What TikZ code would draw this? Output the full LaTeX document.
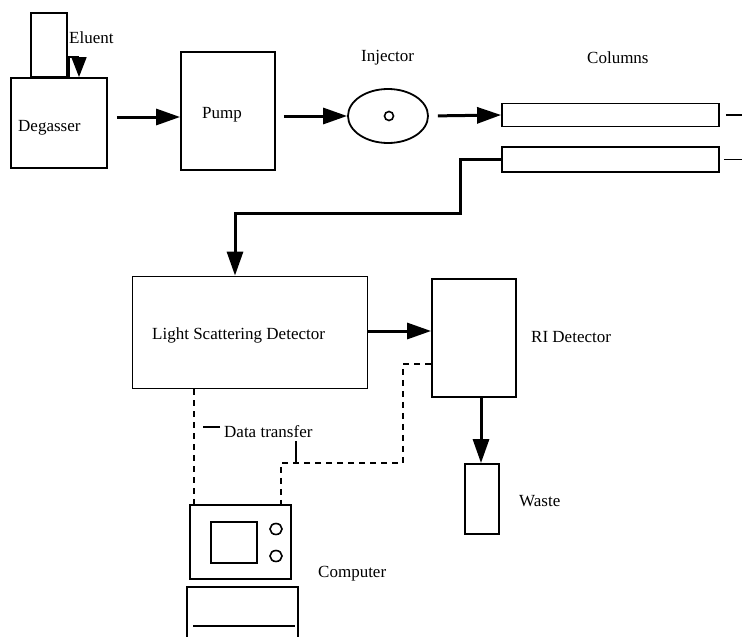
\documentclass[tikz,border=0pt]{standalone}
\usepackage{fontspec}
\setmainfont{Liberation Serif}
\usetikzlibrary{arrows.meta,calc,shapes.geometric}
\begin{document}
\begin{tikzpicture}[x=1pt,y=-1pt,
  box/.style={draw, line width=1.8pt, rectangle, inner sep=0pt},
  lbl/.style={anchor=base west, inner sep=0pt, font=\fontsize{17}{19}\selectfont},
  flow/.style={line width=3pt, -{Triangle[length=24pt,width=16pt]}},
  pipe/.style={line width=1.8pt},
  signal/.style={line width=1.6pt, dash pattern=on 6pt off 5pt},
  tick/.style={line width=1.6pt}]
\useasboundingbox (0,0) rectangle (742,637);

% eluent reservoir and degasser
\node[box, minimum width=36pt, minimum height=64pt] (elu) at (49,45) {};
\node[box, minimum width=96pt, minimum height=90pt] (deg) at (59,123) {};
\node[lbl] (eluT) at (69,43) {Eluent};
\node[lbl] (degT) at (18,131) {Degasser};
\coordinate (eluA) at (69,78);
\coordinate (eluB) at (79,57);
\draw[pipe] (eluA) |- (eluB);
\draw[line width=1.8pt, -{Triangle[length=20pt,width=15pt]}] (eluB) -- (deg.north -| eluB);

% pump and injector
\node[box, minimum width=94pt, minimum height=118pt] (pump) at (228,111) {};
\node[lbl] (pumpT) at (202,118) {Pump};
\node[draw, line width=1.8pt, ellipse, minimum width=80pt, minimum height=54pt, inner sep=0pt] (inj) at (388,116) {};
\node[draw, line width=1.6pt, circle, minimum size=9pt, inner sep=0pt] (port) at (389,116) {};
\node[lbl] (injT) at (361,61) {Injector};

% columns
\node[box, minimum width=217pt, minimum height=23pt] (col1) at (610.5,115) {};
\node[box, minimum width=217pt, minimum height=25pt] (col2) at (610.5,159.5) {};
\node[lbl] (colT) at (587,63) {Columns};

% detectors and waste
\node[box, minimum width=235pt, minimum height=112pt] (lsd) at (250,332.5) {};
\node[lbl] (lsdT) at (152,339) {Light Scattering Detector};
\node[box, minimum width=84pt, minimum height=118pt] (ri) at (474,338) {};
\node[lbl] (riT) at (531,342) {RI Detector};
\node[box, minimum width=34pt, minimum height=70pt] (waste) at (482,499) {};
\node[lbl] (wasteT) at (519,506) {Waste};

% computer
\node[box, minimum width=101pt, minimum height=74pt] (comp) at (240.5,542) {};
\node[box, minimum width=46pt, minimum height=41pt] (screen) at (234,542.5) {};
\node[draw, line width=1.6pt, ellipse, minimum width=12pt, minimum height=11pt, inner sep=0pt] (knob1) at (276,529) {};
\node[draw, line width=1.6pt, ellipse, minimum width=12pt, minimum height=11pt, inner sep=0pt] (knob2) at (276,556) {};
\coordinate (baseL) at (187,645);
\coordinate (baseR) at (298,645);
\draw[pipe] (baseL) |- (298,587) -- (baseR);
\draw[pipe] (193,626) -- (295,626);
\node[lbl] (compT) at (318,577) {Computer};

% flow path
\draw[flow, shorten <=9pt] (deg.east |- 0,117) -- (pump.west |- 0,117);
\draw[flow, shorten <=8pt] (pump.east |- inj.west) -- (inj.west);
\draw[flow, shorten <=9pt] (inj.east) -- (col1.west);
\draw[pipe] ([xshift=6pt]col1.east) -- ++(30,0);
\draw[pipe] ([xshift=4pt]col2.east) -- ++(30,0);
\coordinate (bend) at (460,213);
\draw[flow] (col2.west) -| (bend) -| (lsd.north -| 235,0);
\draw[flow] (lsd.east |- 0,331) -- (ri.west |- 0,331);
\draw[flow] (ri.south -| 481,0) -- (waste.north -| 481,0);

% data transfer lines
\draw[signal] (lsd.south -| 194,0) -- (comp.north -| 194,0);
\coordinate (dbend) at (403,463);
\draw[signal] (ri.west |- 0,364) -| (dbend) -| (comp.north -| 281,0);
\node[lbl] (dt) at (224,437) {Data transfer};
\coordinate (tickA) at (220,427);
\coordinate (tickB) at (296,463);
\draw[tick] (tickA) -- ++(-17,0);
\draw[tick] (tickB) -- ++(0,-22);
\end{tikzpicture}
\end{document}
